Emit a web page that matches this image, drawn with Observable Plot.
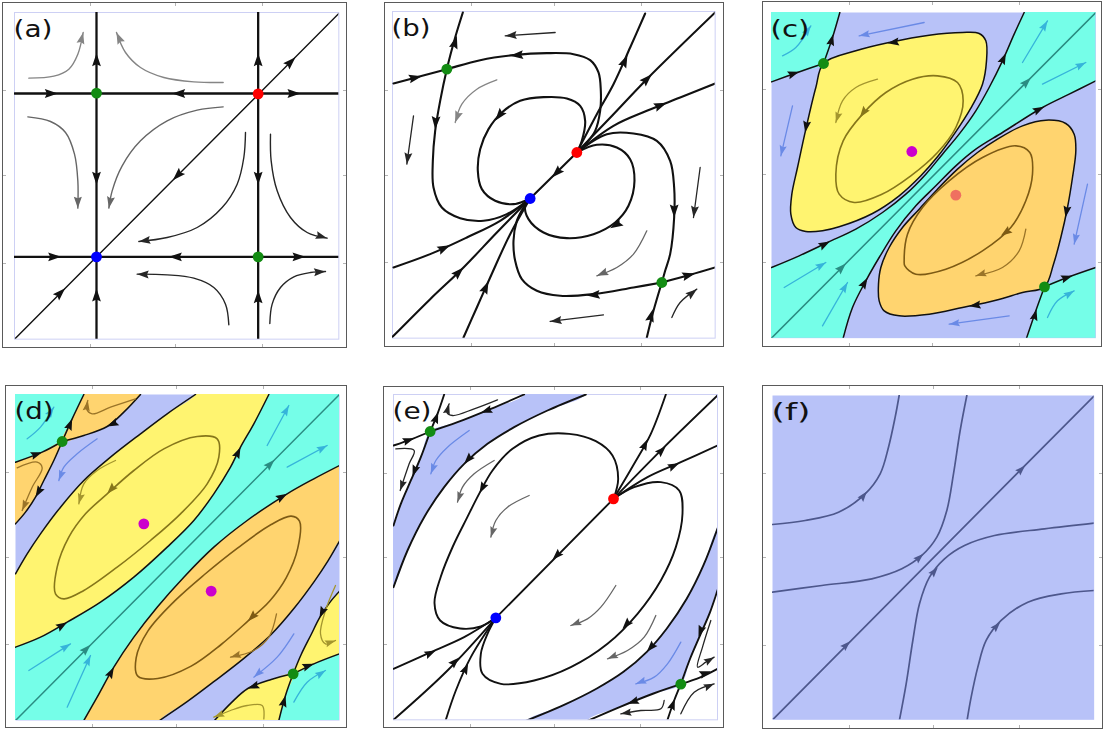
<!DOCTYPE html>
<html><head><meta charset="utf-8">
<script src="https://cdn.jsdelivr.net/npm/d3@7"></script>
<script src="https://cdn.jsdelivr.net/npm/@observablehq/plot@0.6"></script>
<style>
html,body{margin:0;padding:0;background:#fff;}
#fig{position:relative;width:1105px;height:731px;overflow:hidden;background:#fff;}
.box{position:absolute;box-sizing:border-box;border:1.5px solid #5a5a5a;}
.tk{position:absolute;background:#b4b4b4;}
</style></head><body><div id="fig"></div>
<script>
// ================= DATA (phase-plane units) =================
// ---- panel (a)
const aFixed = [[2.46,7.38,"saddle"],[7.31,7.36,"source"],[2.46,2.47,"sink"],[7.31,2.47,"saddle"]];
const aInvariant = [
  [[2.46,0],[2.46,9.8]], [[7.31,0],[7.31,9.8]],
  [[0,7.37],[9.73,7.37]], [[0,2.47],[9.73,2.47]]];
const aDiagonal = [[[0.03,0.03],[9.73,9.77]]];
const aHeads = [
  [2.46,8.58,0,"black"],[2.46,4.63,180,"black"],[2.46,1.52,0,"black"],
  [7.31,8.58,0,"black"],[7.31,4.63,180,"black"],[7.31,1.47,0,"black"],
  [1.30,7.37,90,"black"],[4.73,7.37,270,"black"],[8.58,7.37,90,"black"],
  [1.40,2.47,90,"black"],[4.63,2.47,270,"black"],[8.73,2.47,90,"black"],
  [1.52,1.53,45,"black"],[4.75,4.77,225,"black"],[8.43,8.46,45,"black"]];
const aFlow = [
  {k:"g1",p:[[0.43,7.83],[1.18,7.89],[1.63,8.10],[1.90,8.55],[2.06,9.20]]},
  {k:"g1",p:[[6.26,7.70],[5.38,7.72],[4.48,7.85],[3.78,8.15],[3.33,8.60],[3.06,9.20]]},
  {k:"g2",p:[[0.40,6.67],[1.08,6.53],[1.53,6.20],[1.80,5.55],[1.90,4.75],[1.90,3.93]]},
  {k:"g2",p:[[6.26,6.97],[5.48,6.87],[4.58,6.55],[3.78,5.95],[3.23,5.20],[2.93,4.45],[2.83,3.93]]},
  {k:"g3",p:[[6.93,6.20],[6.88,5.45],[6.68,4.65],[6.23,3.95],[5.48,3.35],[4.58,3.05],[3.73,2.93]]},
  {k:"g3",p:[[7.68,6.15],[7.70,5.35],[7.88,4.45],[8.28,3.65],[8.78,3.20],[9.38,3.03]]},
  {k:"g3",p:[[6.43,0.43],[6.33,1.05],[5.98,1.55],[5.38,1.83],[4.58,1.93],[3.68,1.95]]},
  {k:"g3",p:[[7.66,0.47],[7.73,1.05],[7.98,1.55],[8.38,1.87],[8.88,2.00],[9.33,2.03]]}];

// ---- panel (b)
const bFixed = [[1.63,8.07,"saddle"],[5.53,5.57,"source"],[4.13,4.19,"sink"],[8.08,1.67,"saddle"]];
const bOrbits = [
  [[2.11,9.77],[1.88,9.02],[1.63,8.07],[1.43,7.12],[1.28,6.22],[1.21,5.32],[1.23,4.52],[1.48,3.92],[2.03,3.60],[2.73,3.52],[3.43,3.72],[4.13,4.19]],
  [[0.03,7.64],[0.78,7.84],[1.63,8.07],[2.63,8.34],[3.63,8.49],[4.63,8.55],[5.43,8.52],[5.93,8.34],[6.18,7.97],[6.25,7.42],[6.23,6.82],[6.08,6.22],[5.83,5.87],[5.53,5.57]],
  [[5.53,5.57],[5.68,5.92],[5.78,6.52],[5.63,6.97],[5.23,7.19],[4.53,7.23],[3.83,7.12],[3.28,6.77],[2.88,6.27],[2.63,5.67],[2.56,5.02],[2.68,4.47],[3.08,4.12],[3.63,4.02],[4.13,4.19]],
  [[5.53,5.57],[6.13,5.80],[6.73,5.72],[7.13,5.37],[7.26,4.72],[7.08,3.97],[6.68,3.47],[6.03,3.12],[5.23,3.00],[4.53,3.17],[4.08,3.57],[3.98,3.97],[4.13,4.19]],
  [[5.53,5.57],[6.43,6.12],[7.23,6.14],[7.93,5.92],[8.33,5.32],[8.45,4.52],[8.45,3.62],[8.33,2.52],[8.18,2.02],[8.08,1.67]],
  [[7.63,0.02],[7.83,0.82],[8.08,1.67]],
  [[8.08,1.67],[8.93,1.90],[9.68,2.12]],
  [[8.08,1.67],[7.23,1.52],[6.03,1.32],[5.03,1.27],[4.33,1.42],[3.88,1.77],[3.68,2.32],[3.63,2.92],[3.73,3.52],[3.93,3.92],[4.13,4.19]],
  [[5.53,5.57],[6.13,6.72],[6.63,7.62],[7.13,8.72],[7.58,9.74]],
  [[5.53,5.57],[6.63,6.72],[7.63,7.77],[9.68,9.77]],
  [[5.53,5.57],[6.63,6.37],[7.63,6.82],[8.63,7.22],[9.68,7.64]],
  [[5.53,5.57],[4.13,4.19]],
  [[0.03,2.12],[1.13,2.52],[2.23,3.02],[3.23,3.52],[4.13,4.19]],
  [[0,0.04],[1.13,1.17],[2.13,2.12],[3.13,3.17],[4.13,4.19]],
  [[2.13,0.02],[2.53,0.92],[2.93,1.82],[3.53,3.12],[4.13,4.19]]];
const bHeads = [
  [1.93,9.07,16,"black"],[1.28,6.27,184,"black"],[0.88,7.86,77,"black"],[3.53,8.47,265,"black"],
  [3.08,6.52,218,"black"],[6.53,3.30,240,"black"],[8.45,3.62,180,"black"],[7.81,0.87,15,"black"],
  [9.08,1.94,75,"black"],[5.83,1.28,265,"black"],[7.05,8.50,24,"black"],[7.78,7.92,45,"black"],
  [8.23,7.06,68,"black"],[4.78,4.82,225,"black"],[1.73,2.79,65,"black"],[2.13,2.12,45,"black"],[2.88,1.71,24,"black"]];
const bFlow = [
  {k:"g3",p:[[4.88,9.17],[3.38,9.07]]},
  {k:"g1",p:[[3.13,7.75],[2.53,7.47],[2.08,7.02],[1.88,6.47]]},
  {k:"g3",p:[[0.63,6.67],[0.43,5.22]]},
  {k:"g3",p:[[9.23,5.12],[9.03,3.62]]},
  {k:"g2",p:[[7.63,3.22],[7.23,2.52],[6.73,2.12],[6.13,1.87]]},
  {k:"g3",p:[[6.33,0.70],[4.73,0.50]]},
  {k:"g3",p:[[8.38,0.62],[8.63,1.07],[9.13,1.47]]}];

// ---- panel (c)
const cFixed = [[1.56,8.24,"saddle"],[4.21,5.60,"center"],[5.53,4.29,"centerB"],[8.19,1.54,"saddle"]];
const cRegions = [
  {k:"cyan",p:[[-0.3,7.55],[0,7.69],[0.78,7.97],[1.56,8.24],[1.83,9.02],[2.05,9.77],[2.15,10.2],[-0.3,10.2]]},
  {k:"cyan",p:[[10.1,2.2],[9.73,2.12],[8.93,1.84],[8.19,1.54],[7.93,0.82],[7.65,0],[7.55,-0.4],[10.1,-0.4]]},
  {k:"cyan",p:[[-0.3,1.98],[0,2.12],[0.83,2.47],[1.68,2.87],[2.53,3.27],[3.33,3.77],[4.03,4.32],[4.63,4.92],[5.13,5.52],[5.63,6.12],[6.13,6.82],[6.53,7.52],[6.93,8.32],[7.28,9.12],[7.58,9.77],[7.7,10.2],[10.1,10.2],[10.1,7.9],[9.73,7.72],[8.93,7.32],[8.13,6.92],[6.93,6.17],[6.13,5.67],[5.53,5.17],[4.93,4.57],[4.33,3.97],[3.73,3.22],[3.23,2.42],[2.83,1.72],[2.43,0.92],[2.15,0],[2.1,-0.4],[-0.3,-0.4]]}];
const cLoopsFilled = [
  {k:"yellow",p:[[1.56,8.24],[2.53,8.62],[3.53,8.87],[4.73,9.09],[5.73,9.17],[6.23,9.14],[6.43,8.92],[6.45,8.32],[6.33,7.62],[5.98,6.90],[5.48,6.12],[4.98,5.44],[4.48,4.87],[3.83,4.27],[3.03,3.74],[2.03,3.34],[1.53,3.22],[1.03,3.20],[0.73,3.32],[0.58,3.72],[0.61,4.32],[0.78,5.12],[1.03,6.27],[1.33,7.52]]},
  {k:"orange",p:[[8.19,1.54],[7.53,1.37],[6.73,1.14],[5.73,0.92],[4.73,0.72],[3.83,0.67],[3.38,0.82],[3.23,1.12],[3.21,1.62],[3.28,2.12],[3.53,2.72],[3.93,3.32],[4.43,3.87],[4.98,4.47],[5.58,5.07],[6.18,5.57],[6.78,5.97],[7.53,6.37],[8.23,6.54],[8.83,6.44],[9.08,6.12],[9.13,5.62],[9.03,4.82],[8.88,3.92],[8.68,3.02],[8.46,2.22]]}];
const cSeparatrices = [
  [[0,7.69],[0.78,7.97],[1.56,8.24]],
  [[1.56,8.24],[1.83,9.02],[2.05,9.77]],
  [[7.65,0],[7.93,0.82],[8.19,1.54]],
  [[8.19,1.54],[8.93,1.84],[9.73,2.12]],
  [[0,2.12],[0.83,2.47],[1.68,2.87],[2.53,3.27],[3.33,3.77],[4.03,4.32],[4.63,4.92],[5.13,5.52],[5.63,6.12],[6.13,6.82],[6.53,7.52],[6.93,8.32],[7.28,9.12],[7.58,9.77]],
  [[2.15,0],[2.43,0.92],[2.83,1.72],[3.23,2.42],[3.73,3.22],[4.33,3.97],[4.93,4.57],[5.53,5.17],[6.13,5.67],[6.93,6.17],[8.13,6.92],[8.93,7.32],[9.73,7.72]]];
const cDiagonal = [[[0,0],[9.73,9.77]]];
const cCycles = [
  {k:"olive",p:[[1.93,4.92],[2.15,5.92],[2.73,6.72],[3.43,7.37],[4.23,7.77],[4.98,7.87],[5.58,7.67],[5.75,7.12],[5.53,6.32],[4.98,5.57],[4.18,4.87],[3.28,4.30],[2.48,4.07],[2.03,4.32]]},
  {k:"brown",p:[[3.98,2.32],[4.08,3.12],[4.53,3.92],[5.33,4.72],[6.33,5.42],[7.33,5.77],[7.75,5.57],[7.83,4.92],[7.63,4.12],[7.18,3.32],[6.33,2.62],[5.23,2.07],[4.33,1.92],[4.00,2.17]]}];
const cHeads = [
  [0.83,7.99,72,"black"],[1.85,9.12,15,"black"],[3.48,8.85,262,"black"],[1.01,6.17,190,"black"],
  [8.82,3.62,190,"black"],[5.93,0.96,262,"black"],[7.95,0.87,15,"black"],[9.03,1.87,72,"black"],
  [1.75,2.90,62,"black"],[7.03,8.55,24,"black"],[2.88,1.81,30,"black"],[8.18,6.94,63,"black"],
  [2.23,2.24,45,"teal"],[7.78,7.81,45,"teal"],[2.65,6.62,216,"olive"],[6.88,3.07,235,"brown"]];
const cFlow = [
  {k:"oliveL",p:[[3.18,7.77],[2.53,7.52],[2.13,7.12],[1.93,6.47]]},
  {k:"brownL",p:[[7.63,3.27],[7.43,2.62],[6.93,2.12],[6.13,1.87]]},
  {k:"blueA",p:[[4.58,9.47],[2.63,9.07]]},
  {k:"blueA",p:[[0.63,6.97],[0.28,5.47]]},
  {k:"blueA",p:[[9.48,4.62],[9.08,2.82]]},
  {k:"blueA",p:[[7.13,0.67],[5.33,0.42]]},
  {k:"cyanA",p:[[0.33,8.47],[0.73,8.72],[1.18,9.37]]},
  {k:"cyanA",p:[[7.53,8.27],[8.28,9.52]]},
  {k:"cyanA",p:[[8.13,7.62],[9.43,8.27]]},
  {k:"cyanA",p:[[0.38,1.52],[1.63,2.27]]},
  {k:"cyanA",p:[[1.53,0.37],[2.28,1.67]]},
  {k:"cyanA",p:[[8.28,0.62],[8.58,1.12],[9.08,1.42]]}];

// ---- panel (d)
const dFixed = [[1.40,8.37,"saddle"],[3.85,5.90,"center"],[5.87,3.88,"center"],[8.33,1.40,"saddle"]];
const dRegions = [
  {k:"cyan",p:[[-0.3,2.05],[0,2.20],[0.75,2.50],[1.55,2.95],[2.55,3.55],[3.55,4.30],[4.55,5.20],[5.35,6.00],[5.95,6.80],[6.45,7.60],[6.75,8.20],[7.15,8.90],[7.60,9.78],[7.75,10.2],[10.1,10.2],[10.1,7.8],[9.72,7.65],[8.95,7.25],[8.15,6.80],[6.95,6.00],[5.95,5.20],[5.05,4.30],[4.25,3.40],[3.55,2.50],[2.95,1.60],[2.45,0.70],[2.05,0],[1.95,-0.4],[-0.3,-0.4]]},
  {k:"cyan",p:[[-0.3,7.6],[0,7.75],[0.80,8.05],[1.40,8.37],[1.70,9.05],[2.05,9.78],[2.15,10.2],[-0.3,10.2]]},
  {k:"cyan",p:[[10.1,2.15],[9.72,2.00],[8.95,1.70],[8.33,1.40],[8.10,0.75],[7.90,0],[7.8,-0.4],[10.1,-0.4]]},
  {k:"orange",p:[[2.15,10.2],[2.05,9.78],[1.70,9.05],[1.40,8.37],[2.05,8.55],[2.75,8.82],[3.25,9.25],[3.75,9.78],[3.85,10.2]]},
  {k:"orange",p:[[-0.3,7.6],[0,7.75],[0.80,8.05],[1.40,8.37],[1.15,7.80],[0.85,7.20],[0.60,6.70],[0.30,6.25],[0,5.90],[-0.3,5.6]]},
  {k:"yellow",p:[[5.55,10.2],[5.40,9.78],[4.55,9.20],[3.75,8.60],[2.85,7.90],[2.05,7.20],[1.35,6.40],[0.75,5.60],[0.35,5.00],[0,4.40],[-0.3,3.9],[-0.3,2.05],[0,2.20],[0.75,2.50],[1.55,2.95],[2.55,3.55],[3.55,4.30],[4.55,5.20],[5.35,6.00],[5.95,6.80],[6.45,7.60],[6.75,8.20],[7.15,8.90],[7.60,9.78],[7.75,10.2]]},
  {k:"orange",p:[[1.95,-0.4],[2.05,0],[2.45,0.70],[2.95,1.60],[3.55,2.50],[4.25,3.40],[5.05,4.30],[5.95,5.20],[6.95,6.00],[8.15,6.80],[8.95,7.25],[9.72,7.65],[10.1,7.8],[10.1,5.5],[9.72,5.38],[9.37,4.78],[8.97,4.18],[8.37,3.38],[7.67,2.58],[6.87,1.88],[5.97,1.18],[5.17,0.58],[4.32,0],[4.2,-0.4]]},
  {k:"yellow",p:[[10.1,2.15],[9.72,2.00],[8.95,1.70],[8.33,1.40],[8.57,1.98],[8.87,2.58],[9.12,3.08],[9.42,3.53],[9.72,3.88],[10.1,4.1]]},
  {k:"yellow",p:[[7.8,-0.4],[7.90,0],[8.10,0.75],[8.33,1.40],[7.67,1.23],[6.97,0.96],[6.47,0.53],[5.97,0],[5.85,-0.4]]}];
const dSeparatrices = [
  [[0,2.20],[0.75,2.50],[1.55,2.95],[2.55,3.55],[3.55,4.30],[4.55,5.20],[5.35,6.00],[5.95,6.80],[6.45,7.60],[6.75,8.20],[7.15,8.90],[7.60,9.78]],
  [[2.05,0],[2.45,0.70],[2.95,1.60],[3.55,2.50],[4.25,3.40],[5.05,4.30],[5.95,5.20],[6.95,6.00],[8.15,6.80],[8.95,7.25],[9.72,7.65]],
  [[5.40,9.78],[4.55,9.20],[3.75,8.60],[2.85,7.90],[2.05,7.20],[1.35,6.40],[0.75,5.60],[0.35,5.00],[0,4.40]],
  [[9.72,5.38],[9.37,4.78],[8.97,4.18],[8.37,3.38],[7.67,2.58],[6.87,1.88],[5.97,1.18],[5.17,0.58],[4.32,0]],
  [[0,7.75],[0.80,8.05],[1.40,8.37]],
  [[1.40,8.37],[1.70,9.05],[2.05,9.78]],
  [[3.75,9.78],[3.25,9.25],[2.75,8.82],[2.05,8.55],[1.40,8.37]],
  [[1.40,8.37],[1.15,7.80],[0.85,7.20],[0.60,6.70],[0.30,6.25],[0,5.90]],
  [[7.90,0],[8.10,0.75],[8.33,1.40]],
  [[8.33,1.40],[8.95,1.70],[9.72,2.00]],
  [[9.72,3.88],[9.42,3.53],[9.12,3.08],[8.87,2.58],[8.57,1.98],[8.33,1.40]],
  [[8.33,1.40],[7.67,1.23],[6.97,0.96],[6.47,0.53],[5.97,0]]];
const dDiagonal = [[[0,0],[9.72,9.78]]];
const dCycles = [
  {k:"olive",p:[[1.20,3.80],[1.25,4.60],[1.60,5.50],[2.10,6.20],[2.75,6.80],[3.55,7.50],[4.45,8.15],[5.45,8.52],[6.05,8.45],[6.10,7.90],[5.75,7.10],[4.95,6.20],[4.05,5.40],[3.05,4.60],[2.05,3.90],[1.45,3.65]]},
  {k:"brown",p:[[8.52,5.98],[8.47,5.18],[8.12,4.28],[7.62,3.58],[6.97,2.98],[6.17,2.28],[5.27,1.63],[4.27,1.26],[3.67,1.33],[3.62,1.88],[3.97,2.68],[4.77,3.58],[5.67,4.38],[6.67,5.18],[7.67,5.88],[8.27,6.13]]}];
const dHeads = [
  [0.80,8.05,70,"black"],[1.70,9.05,22,"black"],[2.75,8.82,245,"black"],[0.60,6.70,210,"black"],
  [1.55,2.95,58,"black"],[6.75,8.20,25,"black"],[2.95,1.60,28,"black"],[8.15,6.80,60,"black"],
  [8.10,0.75,15,"black"],[8.95,1.70,70,"black"],[9.12,3.08,205,"black"],[6.97,0.96,250,"black"],
  [2.25,2.27,45,"teal"],[7.77,7.82,45,"teal"],[2.75,6.80,222,"olive"],[6.97,2.98,225,"brown"]];
const dFlow = [
  {k:"cyanA",p:[[0.35,8.45],[0.75,8.80],[1.15,9.40]]},
  {k:"cyanA",p:[[7.55,8.25],[8.20,9.45]]},
  {k:"cyanA",p:[[8.15,7.60],[9.35,8.25]]},
  {k:"cyanA",p:[[0.40,1.50],[1.65,2.30]]},
  {k:"cyanA",p:[[1.55,0.40],[2.25,1.95]]},
  {k:"cyanA",p:[[8.35,0.55],[8.75,1.15],[9.30,1.50]]},
  {k:"blueA",p:[[2.45,8.45],[1.85,8.00],[1.45,7.60],[1.30,7.20]]},
  {k:"blueA",p:[[8.35,2.60],[7.85,1.90],[7.15,1.30]]},
  {k:"oliveL",p:[[3.00,7.80],[2.45,7.50],[2.05,7.10],[1.90,6.50]]},
  {k:"brownL",p:[[7.83,3.20],[7.60,2.50],[7.15,2.10],[6.45,1.90]]},
  {k:"brownL",p:[[3.60,9.65],[2.85,9.40],[2.30,9.20],[2.13,9.35],[2.17,9.60]]},
  {k:"brownL",p:[[0.05,7.58],[0.65,7.75],[0.80,7.58],[0.50,7.00],[0.20,6.30]]},
  {k:"oliveL",p:[[9.60,4.05],[9.30,3.30],[9.15,2.60],[9.30,2.30],[9.60,2.40]]},
  {k:"oliveL",p:[[7.45,0.05],[7.40,0.45],[6.95,0.45],[6.45,0.30],[5.95,0.10]]}];

// ---- panel (e)
const eFixed = [[1.10,8.65,"saddle"],[6.60,6.63,"source"],[3.07,3.06,"sink"],[8.62,1.07,"saddle"]];
const eRegions = [
  {k:"lav",p:[[3.95,10.2],[3.92,9.76],[2.92,9.33],[1.92,8.93],[1.10,8.65],[0.82,7.88],[0.52,7.18],[0.22,6.48],[0,5.83],[-0.3,5.5],[-0.3,3.7],[0,3.98],[0.42,5.08],[0.92,6.08],[1.52,6.98],[2.12,7.68],[2.82,8.28],[3.62,8.78],[4.62,9.28],[5.77,9.76],[5.9,10.2]]},
  {k:"lav",p:[[5.9,-0.4],[5.80,-0.04],[6.80,0.39],[7.80,0.79],[8.62,1.07],[8.90,1.84],[9.20,2.54],[9.50,3.24],[9.72,3.89],[10.1,4.2],[10.1,6.0],[9.72,5.74],[9.30,4.64],[8.80,3.64],[8.20,2.74],[7.60,2.04],[6.90,1.44],[6.10,0.94],[5.10,0.44],[3.95,-0.04],[3.8,-0.4]]}];
const eOrbits = [
  [[6.60,6.63],[6.74,7.23],[6.57,7.93],[6.07,8.36],[5.27,8.58],[4.37,8.53],[3.57,8.13],[2.97,7.48],[2.58,6.80],[2.20,6.05],[1.78,5.20],[1.42,4.30],[1.23,3.50],[1.40,2.98],[2.00,2.74],[2.62,2.80],[3.07,3.06]],
  [[6.60,6.63],[7.22,6.98],[8.02,7.13],[8.57,6.88],[8.67,6.18],[8.47,5.18],[8.02,4.18],[7.32,3.18],[6.42,2.28],[5.32,1.58],[4.22,1.18],[3.22,1.08],[2.67,1.38],[2.62,1.98],[2.82,2.58],[3.07,3.06]],
  [[6.60,6.63],[3.07,3.06]],
  [[6.60,6.63],[7.22,7.68],[7.72,8.58],[8.17,9.76]],
  [[6.60,6.63],[8.12,8.18],[9.72,9.73]],
  [[6.60,6.63],[7.62,7.28],[8.62,7.73],[9.72,8.23]],
  [[0,1.53],[1.12,2.03],[2.12,2.48],[3.07,3.06]],
  [[0,0],[1.62,1.48],[3.07,3.06]],
  [[1.57,0],[1.87,0.88],[2.32,1.88],[3.07,3.06]],
  [[0,8.23],[0.57,8.43],[1.10,8.65]],
  [[1.10,8.65],[1.32,9.18],[1.52,9.76]],
  [[3.92,9.76],[2.92,9.33],[1.92,8.93],[1.10,8.65]],
  [[1.10,8.65],[0.82,7.88],[0.52,7.18],[0.22,6.48],[0,5.83]],
  [[5.77,9.76],[4.62,9.28],[3.62,8.78],[2.82,8.28],[2.12,7.68],[1.52,6.98],[0.92,6.08],[0.42,5.08],[0,3.98]],
  [[9.72,5.74],[9.30,4.64],[8.80,3.64],[8.20,2.74],[7.60,2.04],[6.90,1.44],[6.10,0.94],[5.10,0.44],[3.95,-0.04]],
  [[9.72,3.89],[9.50,3.24],[9.20,2.54],[8.90,1.84],[8.62,1.07]],
  [[8.22,0],[8.42,0.58],[8.62,1.07]],
  [[8.62,1.07],[9.22,1.28],[9.72,1.53]],
  [[8.62,1.07],[7.80,0.79],[6.80,0.39],[5.80,-0.04]]];
const eHeads = [
  [2.58,6.80,208,"black"],[6.87,2.73,222,"black"],[4.77,4.80,225,"black"],[7.62,8.42,25,"black"],
  [8.17,8.21,45,"black"],[8.57,7.70,65,"black"],[1.27,2.08,65,"black"],[1.97,1.87,45,"black"],
  [2.24,1.70,25,"black"],[0.62,8.45,70,"black"],[1.34,9.23,20,"black"],[2.62,9.21,250,"black"],
  [0.57,7.30,200,"black"],[2.12,7.68,222,"black"],[7.60,2.04,222,"black"],[9.15,2.49,200,"black"],
  [8.44,0.63,20,"black"],[9.52,1.46,70,"black"],[7.02,0.48,250,"black"]];
const eFlow = [
  {k:"blueA",p:[[2.27,8.68],[1.62,8.18],[1.27,7.78],[1.12,7.38]]},
  {k:"blueA",p:[[8.62,2.33],[8.22,1.68],[7.82,1.28],[7.27,1.08]]},
  {k:"g2",p:[[3.02,7.78],[2.42,7.38],[2.07,6.98],[1.92,6.53]]},
  {k:"g2",p:[[4.07,6.73],[3.42,6.38],[3.07,5.98],[2.92,5.48]]},
  {k:"g2",p:[[6.67,4.03],[6.22,3.38],[5.82,3.03],[5.32,2.83]]},
  {k:"g2",p:[[7.87,3.13],[7.52,2.48],[7.02,2.08],[6.42,1.83]]},
  {k:"g3",p:[[3.12,9.60],[2.42,9.33],[1.77,9.13],[1.60,9.23],[1.67,9.48]]},
  {k:"g3",p:[[0.07,8.13],[0.62,8.08],[0.47,7.68],[0.20,6.88]]},
  {k:"g3",p:[[9.52,2.98],[9.27,2.18],[9.12,1.58],[9.37,1.73],[9.62,1.88]]},
  {k:"g3",p:[[8.12,0.58],[8.02,0.33],[7.42,0.28],[6.82,0.18]]},
  {k:"g3",p:[[8.62,0.18],[9.02,0.83],[9.62,1.08]]}];

// ---- panel (f)
const fOrbits = [
  [[0.03,0.03],[9.63,9.70]],
  [[0,5.86],[0.98,5.98],[1.98,6.23],[2.78,6.78],[3.23,7.38],[3.48,8.18],[3.68,9.08],[3.80,9.73]],
  [[0,3.83],[1.48,4.03],[2.98,4.23],[3.88,4.53],[4.48,4.93],[4.93,5.48],[5.23,6.28],[5.43,7.38],[5.63,8.68],[5.83,9.73]],
  [[3.81,0],[4.01,1.08],[4.21,2.38],[4.41,3.48],[4.71,4.28],[5.16,4.83],[5.76,5.23],[6.66,5.53],[8.16,5.73],[9.65,5.90]],
  [[5.84,0],[5.96,0.68],[6.16,1.58],[6.41,2.38],[6.86,2.98],[7.66,3.53],[8.66,3.78],[9.65,3.88]]];
const fHeads = [
  [2.33,2.36,45,"slate"],[7.58,7.63,45,"slate"],[2.83,6.85,38,"slate"],
  [4.53,4.98,48,"slate"],[4.96,4.58,40,"slate"],[6.83,2.93,42,"slate"]];

const panelLabels = ["(a)","(b)","(c)","(d)","(e)","(f)"];

// ================= STYLE =================
const COL = {
  black:"#111111", g1:"#858585", g2:"#666666", g3:"#262626",
  lav:"#b8c2f8", cyan:"#75fee8", yellow:"#fff470", orange:"#ffd46f",
  olive:"#86761a", oliveL:"#a4962e", brown:"#7d5a14", brownL:"#9a7428",
  teal:"#2a8c82", blueA:"#6a8ae6", cyanA:"#36b4da", slate:"#4d578c",
  saddle:"#138c13", source:"#ff0000", sink:"#0000ff", center:"#cc00cc", centerB:"#ef7060"
};
const U = 100 / 3; // px per phase-plane unit
// arrowhead glyph: tip at the anchor point, pointing "up" before rotation (fixed pixel size)
const head = (len, hw, notch) => ({draw(ctx) {
  ctx.moveTo(0, 0); ctx.lineTo(hw, len); ctx.lineTo(0, notch); ctx.lineTo(-hw, len); ctx.closePath();
}});
const HEAD_BIG = head(13, 4.4, 11), HEAD_MID = head(11.5, 4, 9.8), HEAD_SMALL = head(10.5, 3.6, 8.9);

function rows(curves) {
  return curves.flatMap((c, i) => (Array.isArray(c) ? c : c.p).map(([x, y]) => ({id: i, k: c.k || "black", x, y})));
}
function curveMark(curves, o = {}) {
  return Plot.line(rows(curves), {x: "x", y: "y", z: "id", stroke: d => COL[d.k], curve: "catmull-rom",
    clip: true, strokeLinecap: "round", strokeLinejoin: "round", ...o});
}
function regionMarks(regions, o = {}) {
  return regions.map(r => Plot.line(r.p, {x: d => d[0], y: d => d[1], fill: COL[r.k], stroke: "none", curve: "catmull-rom", clip: true, ...o}));
}
function headMark(list, shape) {
  return Plot.dot(list, {x: d => d[0], y: d => d[1], rotate: d => d[2], fill: d => COL[d[3]], stroke: "none", r: 5, symbol: shape});
}
function endHeads(curves) {
  return curves.map(c => { const n = c.p.length, [x1, y1] = c.p[n - 2], [x2, y2] = c.p[n - 1];
    return [x2, y2, Math.atan2(x2 - x1, y2 - y1) * 180 / Math.PI, c.k]; });
}
function fixedMark(list, r = 5) {
  return Plot.dot(list, {x: d => d[0], y: d => d[1], r, fill: d => COL[d[2]], stroke: "none"});
}
function labelMark(t) {
  return Plot.text([t], {text: d => d, frameAnchor: "top-left", textAnchor: "start", lineAnchor: "top",
    dx: -1, dy: 8, fontSize: 23, fontFamily: "DejaVu Sans", fill: "#111"});
}
const frameLine = Plot.frame({stroke: "#cdd0f4", strokeWidth: 1});
const bgFrame = (k) => Plot.frame({fill: COL[k], stroke: "none"});

// ================= PANELS =================
const panels = [
  {left: 14, top: 11.7, dx: 9.73, dy: 9.80, marks: [
    frameLine,
    curveMark(aInvariant, {strokeWidth: 2.3}),
    curveMark(aDiagonal, {strokeWidth: 1.4}),
    curveMark(aFlow, {strokeWidth: 1.4}),
    headMark(aHeads, HEAD_BIG), headMark(endHeads(aFlow), HEAD_MID),
    fixedMark(aFixed, 5.4), labelMark(panelLabels[0])]},
  {left: 392.3, top: 10.7, dx: 9.68, dy: 9.80, marks: [
    frameLine,
    curveMark(bOrbits, {strokeWidth: 2.1}),
    curveMark(bFlow, {strokeWidth: 1.3}),
    headMark(bHeads, HEAD_BIG), headMark(endHeads(bFlow), HEAD_MID),
    fixedMark(bFixed, 5.4), labelMark(panelLabels[1])]},
  {left: 770.7, top: 11.7, dx: 9.73, dy: 9.77, marks: [
    bgFrame("lav"),
    ...regionMarks(cRegions),
    ...regionMarks(cLoopsFilled, {stroke: COL.black, strokeWidth: 1.5, curve: "catmull-rom-closed"}),
    curveMark(cSeparatrices, {strokeWidth: 1.5}),
    curveMark(cDiagonal, {stroke: COL.teal, strokeWidth: 1.5}),
    curveMark(cCycles, {strokeWidth: 1.6, curve: "catmull-rom-closed"}),
    curveMark(cFlow, {strokeWidth: 1.3}),
    headMark(cHeads, HEAD_MID), headMark(endHeads(cFlow), HEAD_SMALL),
    fixedMark(cFixed, 5.4), labelMark(panelLabels[2])]},
  {left: 15, top: 394, dx: 9.72, dy: 9.78, marks: [
    bgFrame("lav"),
    ...regionMarks(dRegions),
    curveMark(dSeparatrices, {strokeWidth: 1.5}),
    curveMark(dDiagonal, {stroke: COL.teal, strokeWidth: 1.5}),
    curveMark(dCycles, {strokeWidth: 1.6, curve: "catmull-rom-closed"}),
    curveMark(dFlow, {strokeWidth: 1.3}),
    headMark(dHeads, HEAD_MID), headMark(endHeads(dFlow), HEAD_SMALL),
    fixedMark(dFixed, 5.4), labelMark(panelLabels[3])]},
  {left: 392.7, top: 394, dx: 9.72, dy: 9.76, marks: [
    frameLine,
    ...regionMarks(eRegions),
    curveMark(eOrbits, {strokeWidth: 1.9}),
    curveMark(eFlow, {strokeWidth: 1.3}),
    headMark(eHeads, HEAD_MID), headMark(endHeads(eFlow), HEAD_SMALL),
    fixedMark(eFixed, 5.4), labelMark(panelLabels[4])]},
  {left: 772.3, top: 395, dx: 9.65, dy: 9.73, marks: [
    bgFrame("lav"),
    curveMark(fOrbits, {stroke: COL.slate, strokeWidth: 1.7}),
    headMark(fHeads, HEAD_SMALL),
    labelMark(panelLabels[5])]}
];
const boxes = [[2,2,345,346],[384,2,340,345],[762,1,340,346],[5,385,342,343],[383,386,341,342],[762,385,341,344]];

const fig = document.getElementById("fig");
boxes.forEach(([l, t, w, h]) => {
  const d = document.createElement("div"); d.className = "box";
  Object.assign(d.style, {left: l + "px", top: t + "px", width: w + "px", height: h + "px"});
  fig.appendChild(d);
  [0.255, 0.5, 0.755].forEach(f => {
    const tx = l + f * w, ty = t + f * h;
    [[tx, t + 1, 1, 3], [tx, t + h - 4, 1, 3], [l + 1, ty, 3, 1], [l + w - 4, ty, 3, 1]].forEach(([x, y, ww, hh]) => {
      const k = document.createElement("div"); k.className = "tk";
      Object.assign(k.style, {left: x + "px", top: y + "px", width: ww + "px", height: hh + "px"});
      fig.appendChild(k);
    });
  });
});
panels.forEach(p => {
  const svg = Plot.plot({
    width: p.dx * U + 20, height: p.dy * U + 20, margin: 10,
    x: {domain: [0, p.dx], axis: null}, y: {domain: [0, p.dy], axis: null},
    color: {type: "identity"},
    style: {background: "transparent", overflow: "visible", fontFamily: "DejaVu Sans"},
    marks: p.marks
  });
  svg.style.position = "absolute";
  svg.style.left = (p.left - 10) + "px";
  svg.style.top = (p.top - 10) + "px";
  d3.select(svg).selectAll("text").attr("textLength", 39).attr("lengthAdjust", "spacingAndGlyphs");
  fig.appendChild(svg);
});
</script></body></html>
